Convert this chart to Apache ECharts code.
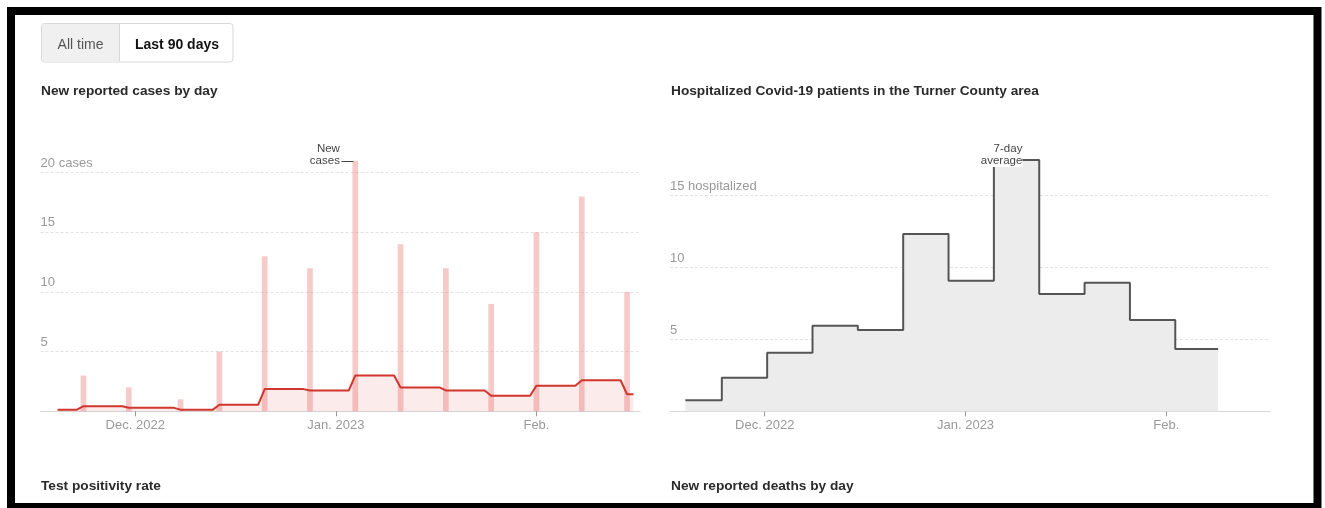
<!DOCTYPE html>
<html><head><meta charset="utf-8">
<script src="https://cdn.jsdelivr.net/npm/echarts@6/dist/echarts.min.js"></script>
<style>html,body{margin:0;padding:0;background:#fff;}#c{width:1325px;height:508px;}</style>
</head><body><div id="c"></div>
<script>
const FONT = '"Liberation Sans", Arial, sans-serif';

// shared time domain and tick labels
const axisStart = '2022-11-16 09:00';
const axisEnd = '2023-02-17 00:00';
const tickDates = ['2022-12-01', '2023-01-01', '2023-02-01'];
const tickLabels = ['Dec. 2022', 'Jan. 2023', 'Feb.'];

// New reported cases (weekly reports)
const caseDates = ['2022-11-23','2022-11-30','2022-12-08','2022-12-14','2022-12-21','2022-12-28','2023-01-04','2023-01-11','2023-01-18','2023-01-25','2023-02-01','2023-02-08','2023-02-15'];
const caseValues = [3, 2, 1, 5, 13, 12, 21, 14, 12, 9, 15, 18, 10];

// 7-day average of cases (change points)
const avgDates = ['2022-11-19','2022-11-22','2022-11-23','2022-11-29','2022-11-30','2022-12-07','2022-12-08','2022-12-13','2022-12-14','2022-12-20','2022-12-21','2022-12-27','2022-12-28','2023-01-03','2023-01-04','2023-01-10','2023-01-11','2023-01-17','2023-01-18','2023-01-24','2023-01-25','2023-01-31','2023-02-01','2023-02-07','2023-02-08','2023-02-14','2023-02-15','2023-02-16'];
const avgValues = [0.14, 0.14, 0.43, 0.43, 0.29, 0.29, 0.14, 0.14, 0.55, 0.55, 1.86, 1.86, 1.75, 1.75, 3.0, 3.0, 2.0, 2.0, 1.75, 1.75, 1.3, 1.3, 2.15, 2.15, 2.6, 2.6, 1.43, 1.43];

// Hospitalized 7-day average (weekly steps)
const hospDates = ['2022-11-18 18:00','2022-11-24 09:00','2022-12-01 09:00','2022-12-08 09:00','2022-12-15 09:00','2022-12-22 09:00','2022-12-29 09:00','2023-01-05 09:00','2023-01-12 09:00','2023-01-19 09:00','2023-01-26 09:00','2023-02-02 09:00','2023-02-09 00:00'];
const hospValues = [0.77, 2.34, 4.08, 5.96, 5.66, 12.34, 9.09, 17.49, 8.16, 8.95, 6.35, 4.34, 4.34];

function t(s) {
  const m = s.match(/(\d+)-(\d+)-(\d+)(?:\s+(\d+):(\d+))?/);
  return Date.UTC(+m[1], +m[2] - 1, +m[3], +(m[4] || 0), +(m[5] || 0));
}
const tickVals = tickDates.map(t);

function xAxisCfg(gridIndex) {
  return {
    type: 'value', gridIndex: gridIndex, min: t(axisStart), max: t(axisEnd),
    axisLine: { show: true, onZero: false, lineStyle: { color: '#d6d6d6', width: 1 } },
    axisTick: { show: true, customValues: tickVals, length: 5, lineStyle: { color: '#999' } },
    axisLabel: {
      show: true, customValues: tickVals, margin: 8, color: '#999', fontSize: 13, fontFamily: FONT,
      hideOverlap: false,
      formatter: function (v) {
        for (let i = 0; i < tickVals.length; i++) if (Math.abs(tickVals[i] - v) < 3600000) return tickLabels[i];
        return '';
      }
    },
    splitLine: { show: false }
  };
}
function yAxisCfg(gridIndex, max, unit) {
  return {
    type: 'value', gridIndex: gridIndex, min: 0, max: max, interval: 5,
    axisLine: { show: false }, axisTick: { show: false },
    splitLine: { show: true, lineStyle: { color: '#e2e2e2', type: [3, 2], width: 1 } },
    axisLabel: {
      inside: true, margin: 0, color: '#999', fontSize: 13, fontFamily: FONT,
      verticalAlign: 'bottom', padding: [0, 0, 3, 0],
      formatter: function (v) { return v === 0 ? '' : (v === max ? v + ' ' + unit : String(v)); }
    }
  };
}

const casePeak = caseValues.indexOf(Math.max.apply(null, caseValues));
const hospPeak = hospValues.indexOf(Math.max.apply(null, hospValues));

const staticGraphics = [
  { type: 'rect', silent: true, z: 100, shape: { x: 11, y: 11, width: 1306.5, height: 496 }, style: { fill: 'none', stroke: '#000', lineWidth: 8 } },
  { type: 'rect', silent: true, shape: { x: 41.5, y: 23.5, width: 191.5, height: 38.5, r: 3 }, style: { fill: '#fff', stroke: '#d8d8d8', lineWidth: 1 } },
  { type: 'rect', silent: true, shape: { x: 42, y: 24, width: 77.5, height: 37.5, r: [2.5, 0, 0, 2.5] }, style: { fill: '#f0f0f0' } },
  { type: 'line', silent: true, shape: { x1: 119.5, y1: 24, x2: 119.5, y2: 61.5 }, style: { stroke: '#d8d8d8', lineWidth: 1 } },
  { type: 'text', silent: true, x: 80.5, y: 45.5, style: { text: 'All time', fill: '#555', font: '14px ' + FONT, align: 'center', verticalAlign: 'middle' } },
  { type: 'text', silent: true, x: 177, y: 45.5, style: { text: 'Last 90 days', fill: '#121212', font: 'bold 14px ' + FONT, align: 'center', verticalAlign: 'middle' } },
  { type: 'text', silent: true, x: 41, y: 91, style: { text: 'New reported cases by day', fill: '#2a2a2a', font: 'bold 13.7px ' + FONT, verticalAlign: 'middle' } },
  { type: 'text', silent: true, x: 671, y: 91, style: { text: 'Hospitalized Covid-19 patients in the Turner County area', fill: '#2a2a2a', font: 'bold 13.7px ' + FONT, verticalAlign: 'middle' } },
  { type: 'text', silent: true, x: 41, y: 486, style: { text: 'Test positivity rate', fill: '#2a2a2a', font: 'bold 13.7px ' + FONT, verticalAlign: 'middle' } },
  { type: 'text', silent: true, x: 671, y: 486, style: { text: 'New reported deaths by day', fill: '#2a2a2a', font: 'bold 13.7px ' + FONT, verticalAlign: 'middle' } }
];

const chart = echarts.init(document.getElementById('c'), null, { renderer: 'canvas' });
chart.setOption({
  animation: false,
  backgroundColor: '#fff',
  grid: [
    { left: 40.6, right: 685, top: 172.7, bottom: 96.7, outerBoundsMode: 'none' },
    { left: 670, right: 55, top: 195.7, bottom: 96.7, outerBoundsMode: 'none' }
  ],
  xAxis: [xAxisCfg(0), xAxisCfg(1)],
  yAxis: [yAxisCfg(0, 20, 'cases'), yAxisCfg(1, 15, 'hospitalized')],
  series: [
    {
      type: 'bar', xAxisIndex: 0, yAxisIndex: 0, silent: true, clip: false,
      data: caseDates.map(function (d, i) { return [t(d), caseValues[i]]; }),
      barWidth: 5.7,
      itemStyle: { color: 'rgba(236,128,128,0.42)' }
    },
    {
      type: 'line', xAxisIndex: 0, yAxisIndex: 0, silent: true,
      data: avgDates.map(function (d, i) { return [t(d), avgValues[i]]; }),
      showSymbol: false, symbol: 'none',
      lineStyle: { color: '#d0362d', width: 2 },
      areaStyle: { color: 'rgba(214,64,58,0.15)' }
    },
    {
      type: 'line', xAxisIndex: 1, yAxisIndex: 1, silent: true, clip: false, step: 'end',
      data: hospDates.map(function (d, i) { return [t(d), hospValues[i]]; }),
      showSymbol: false, symbol: 'none',
      lineStyle: { color: '#555', width: 2 },
      areaStyle: { color: '#ececec', opacity: 1 }
    }
  ],
  graphic: staticGraphics
});

// annotations anchored through the chart's own scales
const pCase = chart.convertToPixel({ gridIndex: 0 }, [t(caseDates[casePeak]), caseValues[casePeak]]);
const pHosp = chart.convertToPixel({ gridIndex: 1 }, [t(hospDates[hospPeak]), hospValues[hospPeak]]);
const barHalf = 5.7 / 2;
chart.setOption({
  graphic: staticGraphics.concat([
    { type: 'text', silent: true, z: 50, x: pCase[0] - barHalf - 12.5, y: pCase[1] + 6,
      style: { text: 'New\ncases', fill: '#444', font: '11.5px ' + FONT, lineHeight: 12, align: 'right', verticalAlign: 'bottom' } },
    { type: 'line', silent: true, z: 50, shape: { x1: pCase[0] - barHalf - 11, y1: Math.round(pCase[1]) + 0.5, x2: pCase[0] - barHalf + 1, y2: Math.round(pCase[1]) + 0.5 },
      style: { stroke: '#444', lineWidth: 1 } },
    { type: 'text', silent: true, z: 50, x: pHosp[0] + 28.5, y: pHosp[1] + 7,
      style: { text: '7-day\naverage', fill: '#444', font: '11.5px ' + FONT, lineHeight: 12, align: 'right', verticalAlign: 'bottom', backgroundColor: '#fff' } }
  ])
});
</script>
</body></html>
